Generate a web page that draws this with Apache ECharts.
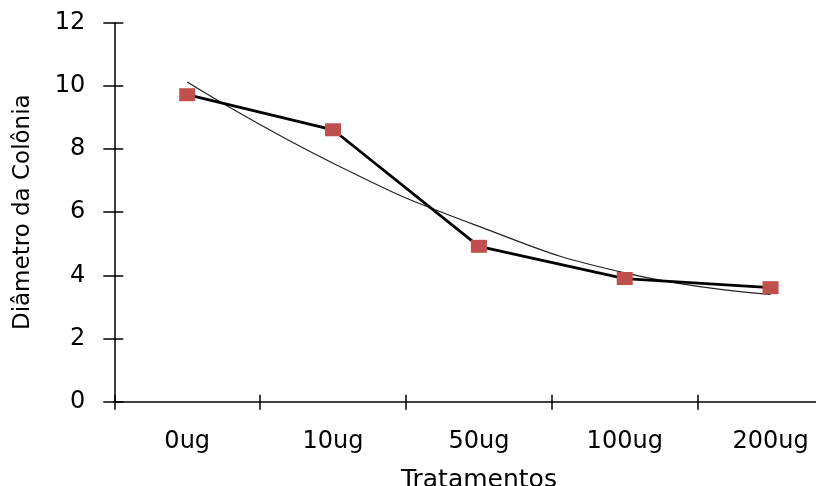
<!DOCTYPE html>
<html>
<head>
<meta charset="utf-8">
<script src="https://cdn.jsdelivr.net/npm/echarts@6/dist/echarts.min.js"></script>
<style>html,body{margin:0;padding:0;background:#fff}#c{width:816px;height:486px}</style>
</head>
<body>
<div id="c"></div>
<script>
const categories = ['0ug', '10ug', '50ug', '100ug', '200ug'];
const diameter = [9.72, 8.61, 4.92, 3.90, 3.61];
const trend = [10.12, 7.55, 5.55, 4.08, 3.40];
const yTicks = { min: 0, max: 12, interval: 2 };

const FONT = 'DejaVu Sans';
const chart = echarts.init(document.getElementById('c'), null, { renderer: 'canvas' });
chart.setOption({
  animation: false,
  backgroundColor: '#fff',
  grid: { left: 114.3, right: -27.5, top: 22.7, bottom: 84.3, containLabel: false, outerBoundsMode: 'none' },
  xAxis: [
    {
      type: 'category', data: categories, position: 'bottom', boundaryGap: true,
      name: 'Tratamentos', nameLocation: 'middle', nameGap: 66,
      nameTextStyle: { fontFamily: FONT, fontSize: 25, color: '#000' },
      axisLine: { lineStyle: { color: '#000', width: 1.5 } },
      axisTick: { show: true, inside: false, length: 8, alignWithLabel: false, lineStyle: { color: '#000', width: 1.5 } },
      axisLabel: { interval: 0, margin: 28, fontFamily: FONT, fontSize: 24, color: '#000' },
      splitLine: { show: false }
    },
    {
      type: 'category', data: categories, position: 'bottom', boundaryGap: true,
      axisLine: { show: false },
      axisTick: { show: true, inside: true, length: 7, lineStyle: { color: '#000', width: 1.5 } },
      axisLabel: { show: false },
      splitLine: { show: false }
    }
  ],
  yAxis: [
    {
      type: 'value', min: yTicks.min, max: yTicks.max, interval: yTicks.interval, position: 'left',
      name: 'Diâmetro da Colônia', nameLocation: 'middle', nameGap: 80,
      nameTextStyle: { fontFamily: FONT, fontSize: 23, color: '#000' },
      axisLine: { show: true, lineStyle: { color: '#000', width: 1.5 } },
      axisTick: { show: true, inside: false, length: 11, lineStyle: { color: '#000', width: 1.5 } },
      axisLabel: { margin: 29, fontFamily: FONT, fontSize: 24, color: '#000' },
      splitLine: { show: false }
    },
    {
      type: 'value', min: yTicks.min, max: yTicks.max, interval: yTicks.interval, position: 'left',
      axisLine: { show: false },
      axisTick: { show: true, inside: true, length: 9, lineStyle: { color: '#000', width: 1.5 } },
      axisLabel: { show: false },
      splitLine: { show: false }
    }
  ],
  series: [
    {
      type: 'line', data: trend, smooth: true, showSymbol: false, symbol: 'none',
      lineStyle: { color: '#222', width: 1.2 }, z: 2
    },
    {
      type: 'line', data: diameter, symbol: 'rect', symbolSize: [16, 13],
      itemStyle: { color: '#C0504D', borderWidth: 0 },
      lineStyle: { color: '#000', width: 2.8 }, z: 3
    }
  ]
});
</script>
</body>
</html>
